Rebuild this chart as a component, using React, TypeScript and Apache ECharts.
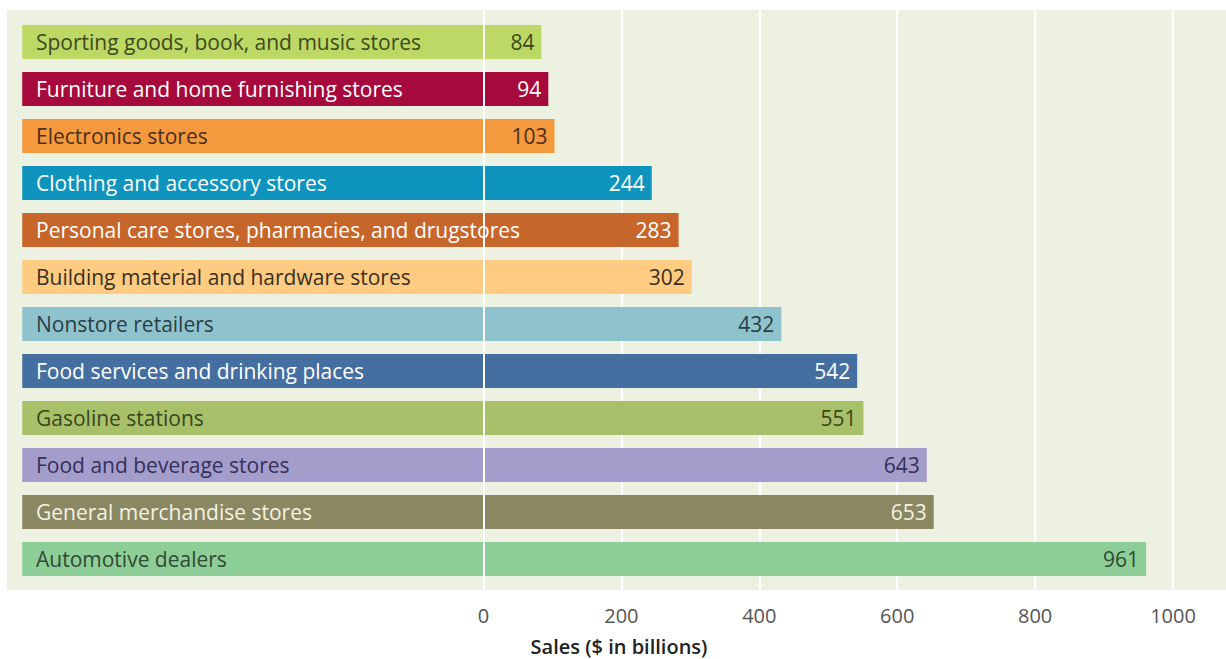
import React, { useEffect, useRef } from "react";
import * as echarts from "echarts";

const categories = [
  "Sporting goods, book, and music stores",
  "Furniture and home furnishing stores",
  "Electronics stores",
  "Clothing and accessory stores",
  "Personal care stores, pharmacies, and drugstores",
  "Building material and hardware stores",
  "Nonstore retailers",
  "Food services and drinking places",
  "Gasoline stations",
  "Food and beverage stores",
  "General merchandise stores",
  "Automotive dealers",
];
const sales = [84, 94, 103, 244, 283, 302, 432, 542, 551, 643, 653, 961];
const barColors = [
  "#bdd864", "#a6093b", "#f4993d", "#0f94be", "#c7662b", "#fdcc82",
  "#8ec3ce", "#456fa1", "#a9c06b", "#a49dcc", "#8a8862", "#8dcd97",
];
const textColors = [
  "#3c4a22", "#ffffff", "#4a2f1a", "#ffffff", "#ffffff", "#3a3020",
  "#2a3e44", "#ffffff", "#384620", "#352f5a", "#f4f2e2", "#2f4a32",
];
const xTicks = [0, 200, 400, 600, 800, 1000];
const leftExtent = -669;

const FONT = "'Open Sans', sans-serif";

export default function App() {
  const ref = useRef<HTMLDivElement>(null);
  useEffect(() => {
    const chart = echarts.init(ref.current!, null, { renderer: "svg" });
    const catsRev = categories.slice().reverse();
    const valsRev = sales.slice().reverse();
    const colsRev = barColors.slice().reverse();
    const txtRev = textColors.slice().reverse();
    chart.setOption({
      animation: false,
      backgroundColor: "#ffffff",
      graphic: [
        {
          type: "rect",
          z: -10,
          shape: { x: 7, y: 10, width: 1219, height: 580 },
          style: { fill: "#ecf1e1" },
          silent: true,
        },
        {
          type: "text",
          x: 619,
          y: 646,
          style: {
            text: "Sales ($ in billions)",
            font: `600 20px ${FONT}`,
            lineHeight: 22,
            fill: "#222222",
            textAlign: "center",
            textVerticalAlign: "middle",
          },
        },
      ],
      grid: [
        { left: 483.5, right: 53, top: 18.5, bottom: 659 - 582.5, containLabel: false },
        { left: 483.5, right: 53, top: 10, bottom: 69, containLabel: false },
      ],
      xAxis: [
        {
          gridIndex: 0,
          type: "value",
          min: 0,
          max: 1000,
          interval: 200,
          axisLine: { show: false },
          axisTick: { show: false },
          axisLabel: { show: false },
          splitLine: { show: false },
        },
        {
          gridIndex: 1,
          type: "value",
          min: 0,
          max: 1000,
          interval: 200,
          axisLine: { show: false },
          axisTick: { show: false },
          splitLine: { show: true, lineStyle: { color: "#ffffff", width: 2 } },
          axisLabel: {
            margin: 15,
            fontSize: 20,
            fontFamily: FONT,
            color: "#555555",
            formatter: (v: number) => (xTicks.includes(v) ? String(v) : ""),
          },
        },
      ],
      yAxis: [
        {
          gridIndex: 0,
          type: "category",
          data: catsRev.map((c, i) => ({ value: c, textStyle: { color: txtRev[i] } })),
          z: 10,
          axisLine: { show: false },
          axisTick: { show: false },
          splitLine: { show: false },
          axisLabel: {
            inside: true,
            margin: -(483.5 - 36),
            fontSize: 21,
            fontFamily: FONT,
            align: "left",
          },
        },
        {
          gridIndex: 1,
          type: "category",
          data: ["a"],
          show: false,
        },
      ],
      series: [
        {
          type: "bar",
          xAxisIndex: 0,
          yAxisIndex: 0,
          stack: "s",
          barWidth: 34,
          clip: false,
          data: valsRev.map((v, i) => ({
            value: v,
            itemStyle: { color: colsRev[i] },
            label: { color: txtRev[i] },
          })),
          label: {
            show: true,
            position: "insideRight",
            distance: 7,
            fontSize: 21,
            fontFamily: FONT,
          },
        },
        {
          type: "bar",
          xAxisIndex: 0,
          yAxisIndex: 0,
          stack: "s",
          barWidth: 34,
          clip: false,
          data: valsRev.map((v, i) => ({
            value: leftExtent,
            itemStyle: { color: colsRev[i] },
          })),
        },
        {
          type: "scatter",
          xAxisIndex: 1,
          yAxisIndex: 1,
          data: [],
          z: 30,
          markLine: {
            silent: true,
            symbol: "none",
            label: { show: false },
            lineStyle: { color: "#ffffff", width: 2, type: "solid" },
            data: [{ xAxis: 0 }],
          },
        },
      ],
    });
    return () => chart.dispose();
  }, []);
  return (
    <div
      ref={ref}
      style={{ position: "absolute", left: 0, top: 0, width: 1226, height: 659 }}
    />
  );
}
